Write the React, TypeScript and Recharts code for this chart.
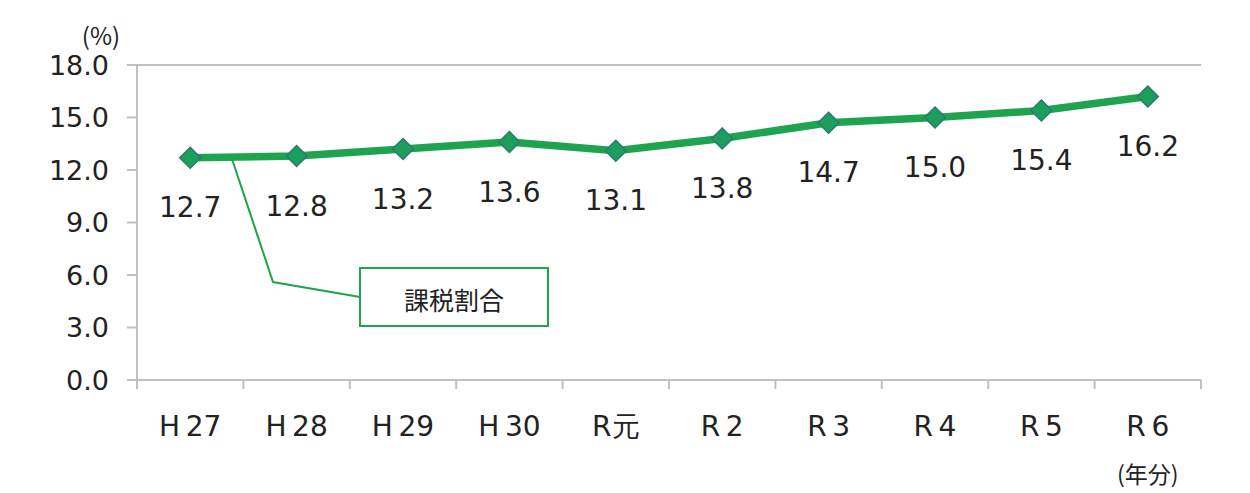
import React from "react"
import { LineChart, Line, XAxis, YAxis, LabelList, ReferenceLine } from "recharts"

const years = ["H27", "H28", "H29", "H30", "R元", "R2", "R3", "R4", "R5", "R6"]
const taxRatio = [12.7, 12.8, 13.2, 13.6, 13.1, 13.8, 14.7, 15.0, 15.4, 16.2]
const yTicks = [0, 3, 6, 9, 12, 15, 18]

const data = years.map((year, i) => ({ year, ratio: taxRatio[i] }))

const W = 1234
const H = 485
const AXIS = "#c0c0c0"
const GREEN = "#1ea44f"
const BAND = 1064 / 10
const FONT = "'DejaVu Sans', Verdana, sans-serif"
const JP = "'Noto Sans CJK JP', sans-serif"

// "H27" -> "H 27" with a thin gap like the original
const spaced = (s: string) => (s === "R元" ? s : s.replace(/^([HR])/, "$1\u2009"))

function XTick(props: any) {
  const { x, y, payload, index } = props
  const left = x - BAND / 2
  const last = index === years.length - 1
  return (
    <g>
      <line x1={left} y1={y} x2={left} y2={y + 9} stroke={AXIS} strokeWidth={2} />
      {last && <line x1={x + BAND / 2} y1={y} x2={x + BAND / 2} y2={y + 9} stroke={AXIS} strokeWidth={2} />}
      <text x={x} y={y + 56} textAnchor="middle" fontSize={28} fontFamily={FONT} fill="#222">
        {spaced(payload.value)}
      </text>
      {last && (
        <text x={x} y={y + 93} textAnchor="middle" dominantBaseline="central" fontSize={23} fontFamily={JP} fill="#222">
          (年分)
        </text>
      )}
    </g>
  )
}

function Diamond(props: any) {
  const { cx, cy } = props
  if (cx == null || cy == null) return null
  const r = 10.5
  return (
    <path
      d={`M${cx},${cy - r} L${cx + r},${cy} L${cx},${cy + r} L${cx - r},${cy} Z`}
      fill="#1c9e5c"
      stroke="#2b7a6d"
      strokeWidth={1.5}
    />
  )
}

function ValueLabel(props: any) {
  const { x, y, value } = props
  return (
    <text x={x} y={y + 50} textAnchor="middle" dominantBaseline="central" fontSize={28} fontFamily={FONT} fill="#222">
      {Number(value).toFixed(1)}
    </text>
  )
}

export default function App() {
  return (
    <div style={{ position: "relative", width: W, height: H, background: "#fff" }}>
      <LineChart width={W} height={H} data={data} margin={{ top: 57, right: 41, bottom: 0, left: 0 }}>
        <XAxis
          dataKey="year"
          padding={{ left: BAND / 2, right: BAND / 2 }}
          axisLine={{ stroke: AXIS, strokeWidth: 2 }}
          tickLine={false}
          tickSize={0}
          tickMargin={0}
          interval={0}
          height={113}
          tick={<XTick />}
        />
        <YAxis
          width={129}
          domain={[0, 18]}
          ticks={yTicks}
          interval={0}
          tickFormatter={(v: number) => v.toFixed(1)}
          axisLine={{ stroke: AXIS, strokeWidth: 2 }}
          tickLine={{ stroke: AXIS, strokeWidth: 2 }}
          tickSize={10}
          tickMargin={18}
          tick={{ fontSize: 27, fontFamily: FONT, fill: "#222" }}
        />
        <YAxis
          yAxisId="right"
          orientation="right"
          width={0}
          domain={[0, 18]}
          tick={false}
          tickLine={false}
          axisLine={{ stroke: AXIS, strokeWidth: 2 }}
        />
        <ReferenceLine y={18} stroke={AXIS} strokeWidth={2} />
        <Line
          type="linear"
          dataKey="ratio"
          stroke={GREEN}
          strokeWidth={7.5}
          dot={<Diamond />}
          activeDot={false}
          isAnimationActive={false}
        >
          <LabelList dataKey="ratio" content={<ValueLabel />} />
        </Line>
      </LineChart>
      <svg width={W} height={H} style={{ position: "absolute", left: 0, top: 0, pointerEvents: "none" }}>
        <text x={93} y={26} textAnchor="middle" dominantBaseline="central" fontSize={24} fontFamily={JP} fill="#222">
          (%)
        </text>
        <polyline points="224,151 265,274 352,289" fill="none" stroke={GREEN} strokeWidth={2} />
        <rect x={352} y={260} width={188} height={58} fill="#fff" stroke={GREEN} strokeWidth={2} />
        <text x={446} y={291} textAnchor="middle" dominantBaseline="central" fontSize={25} fontFamily={JP} fill="#222">
          課税割合
        </text>
      </svg>
    </div>
  )
}
